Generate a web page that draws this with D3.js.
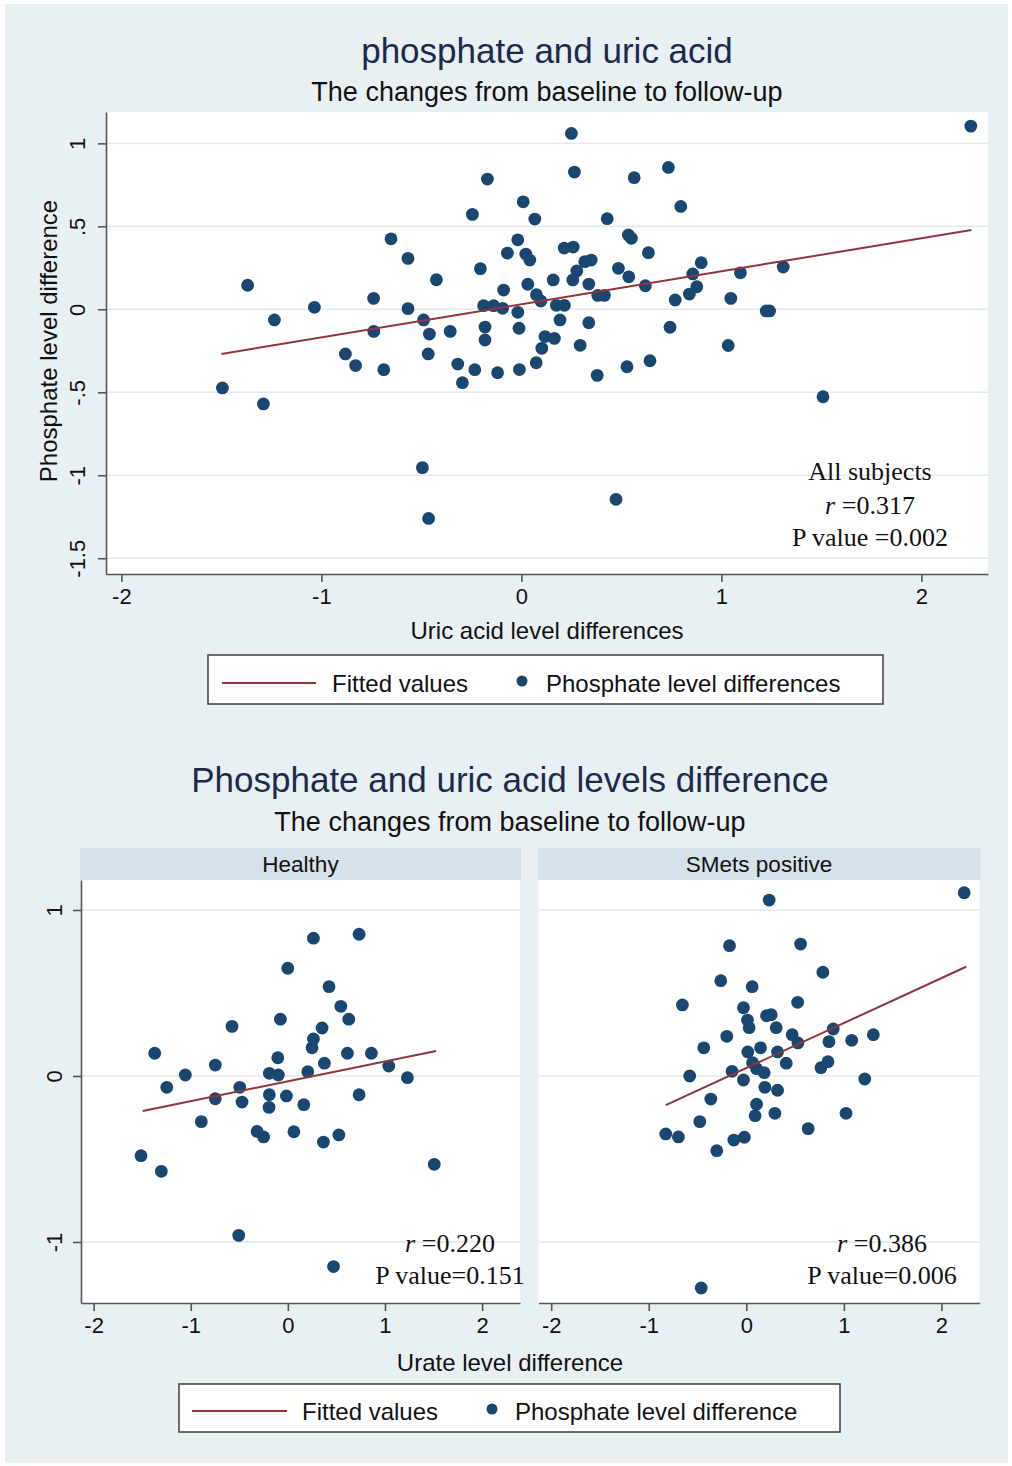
<!DOCTYPE html>
<html>
<head>
<meta charset="utf-8">
<script src="https://cdn.jsdelivr.net/npm/d3@7"></script>
<style>
  html, body { margin: 0; padding: 0; background: #ffffff; }
  svg { display: block; }
  text { font-family: "Liberation Sans", Arial, Helvetica, sans-serif; }
  .serif { font-family: "Liberation Serif", "Times New Roman", serif; }
</style>
</head>
<body>
<script>
// ---------------- DATA ----------------
const topTitle = "phosphate and uric acid";
const bottomTitle = "Phosphate and uric acid levels difference";
const subTitle = "The changes from baseline to follow-up";
const panelNames = ["Healthy", "SMets positive"];

// All subjects: uric acid difference (x) vs phosphate difference (y)
const topX = [2.247,0.25,0.265,0.735,0.564,-0.17,0.797,0.009,-0.245,0.067,0.429,-0.652,-0.018,0.535,0.55,0.214,0.259,0.635,-0.567,-0.07,0.022,0.042,0.317,0.349,0.899,1.095,1.309,-0.205,0.277,0.485,0.857,-0.425,0.159,0.257,0.537,-1.369,0.877,0.62,-0.089,0.032,0.337,0.84,0.075,0.097,0.382,0.415,-0.739,0.769,1.047,-1.035,-0.567,-0.189,-0.139,-0.094,0.175,0.215,-0.018,1.224,1.241,-1.235,-0.489,0.193,-0.182,-0.012,0.337,0.743,-0.738,-0.46,-0.356,-0.182,0.118,0.165,0.102,0.294,1.034,-0.88,-0.466,-0.829,-0.688,-0.318,-0.233,-0.119,-0.01,0.074,0.379,0.528,0.643,-0.295,-1.495,-1.29,1.508,-0.495,0.473,-0.464];
const topY = [1.104,1.06,0.827,0.855,0.793,0.785,0.62,0.648,0.572,0.544,0.546,0.425,0.419,0.448,0.428,0.369,0.375,0.341,0.307,0.339,0.333,0.297,0.287,0.297,0.281,0.22,0.255,0.245,0.231,0.247,0.213,0.178,0.177,0.177,0.196,0.145,0.136,0.142,0.116,0.151,0.152,0.092,0.088,0.05,0.084,0.084,0.066,0.056,0.066,0.012,0.004,0.022,0.022,0.006,0.024,0.024,-0.018,-0.01,-0.01,-0.064,-0.064,-0.064,-0.107,-0.114,-0.081,-0.108,-0.133,-0.149,-0.133,-0.185,-0.164,-0.175,-0.235,-0.217,-0.218,-0.269,-0.269,-0.339,-0.364,-0.33,-0.364,-0.382,-0.363,-0.322,-0.398,-0.346,-0.31,-0.442,-0.474,-0.57,-0.527,-0.954,-1.145,-1.26];
const topFitX = [-1.5, 2.25];
const topFitY = [-0.269, 0.478];

// Healthy panel
const healthyX = [0.263,0.733,-0.001,0.424,0.545,0.627,-0.077,-0.575,0.352,0.263,0.249,-0.104,0.613,0.86,-1.371,0.376,-0.747,-1.056,-0.191,-0.098,0.205,1.039,1.231,-1.247,-0.495,-0.747,-0.472,-0.191,-0.015,-0.194,0.164,0.733,-0.891,-0.317,-0.25,0.062,0.366,0.525,-1.512,-1.303,-0.506,0.47,1.507];
const healthyY = [0.83,0.854,0.649,0.538,0.42,0.342,0.342,0.299,0.289,0.223,0.17,0.11,0.137,0.137,0.137,0.077,0.066,0.006,0.016,0.006,0.026,0.06,-0.01,-0.068,-0.068,-0.137,-0.157,-0.113,-0.12,-0.189,-0.173,-0.113,-0.275,-0.334,-0.367,-0.336,-0.398,-0.355,-0.48,-0.574,-0.96,-1.148,-0.532];
const healthyFitX = [-1.494, 1.526];
const healthyFitY = [-0.211, 0.151];

// SMets positive panel
const smetsX = [2.233,0.234,-0.172,0.556,0.785,-0.262,0.06,-0.655,0.526,-0.029,0.012,0.029,0.207,0.255,0.306,0.891,1.302,0.47,0.529,0.847,1.08,-0.2,-0.436,0.146,0.015,0.32,0.064,0.105,0.183,0.409,0.765,0.837,-0.58,-0.146,-0.029,1.214,0.19,0.32,-0.364,0.105,0.09,0.293,1.022,-0.477,0.634,-0.826,-0.696,-0.303,-0.128,-0.02,-0.462];
const smetsY = [1.104,1.06,0.785,0.795,0.625,0.574,0.538,0.428,0.444,0.411,0.337,0.291,0.363,0.369,0.291,0.283,0.249,0.249,0.199,0.207,0.215,0.239,0.17,0.17,0.145,0.145,0.08,0.044,0.02,0.077,0.05,0.086,0,0.028,-0.024,-0.018,-0.068,-0.086,-0.139,-0.17,-0.239,-0.225,-0.225,-0.275,-0.317,-0.349,-0.367,-0.45,-0.386,-0.369,-1.277];
const smetsFitX = [-0.826, 2.253];
const smetsFitY = [-0.175, 0.658];

// Ticks
const topXTicks = [-2, -1, 0, 1, 2];
const topYTicks = [1, 0.5, 0, -0.5, -1, -1.5];
const topYTickLabels = ["1", ".5", "0", "-.5", "-1", "-1.5"];
const botXTicks = [-2, -1, 0, 1, 2];
const botYTicks = [1, 0, -1];
const botYTickLabels = ["1", "0", "-1"];

// Axis titles / legend / stats
const topXTitle = "Uric acid level differences";
const topYTitle = "Phosphate level difference";
const botXTitle = "Urate level difference";
const legendFit = "Fitted values";
const legendTop = "Phosphate level differences";
const legendBot = "Phosphate level difference";
const topStats = ["All subjects", "0.317", "0.002"];
const healthyStats = ["0.220", "0.151"];
const smetsStats = ["0.386", "0.006"];

// ---------------- STYLE ----------------
const BG = "#e9f0f3";
const STRIP = "#d6e2e9";
const GRID = "#e3eaee";
const AXIS = "#555555";
const NAVY = "#1a476f";
const MAROON = "#90353b";
const TITLE = "#1c2b4c";
const R = 6.4;

const W = 1012, H = 1466;
const svg = d3.select("body").append("svg").attr("width", W).attr("height", H);
svg.append("rect").attr("x", 5).attr("y", 4).attr("width", 1003).attr("height", 1459).attr("fill", BG);

function scatterPanel(g, xs, ys, xv, yv, fx, fy, gridTicks) {
  const [x0, x1] = xs.range();
  const [y0, y1] = ys.range();
  g.append("rect").attr("x", x0).attr("y", y1).attr("width", x1 - x0).attr("height", y0 - y1).attr("fill", "#fff");
  g.append("g").selectAll("line").data(gridTicks).join("line")
    .attr("x1", x0).attr("x2", x1)
    .attr("y1", d => ys(d)).attr("y2", d => ys(d))
    .attr("stroke", GRID).attr("stroke-width", 1.6);
  g.append("g").selectAll("circle").data(xv.map((v, i) => [v, yv[i]])).join("circle")
    .attr("cx", d => xs(d[0])).attr("cy", d => ys(d[1])).attr("r", R).attr("fill", NAVY);
  g.append("line")
    .attr("x1", xs(fx[0])).attr("y1", ys(fy[0]))
    .attr("x2", xs(fx[1])).attr("y2", ys(fy[1]))
    .attr("stroke", MAROON).attr("stroke-width", 2);
}

function styleAxis(ax) {
  ax.select(".domain").attr("stroke", AXIS).attr("stroke-width", 1.6);
  ax.selectAll(".tick line").attr("stroke", AXIS).attr("stroke-width", 1.6);
  ax.selectAll("text").attr("fill", "#111").style("font-family", "'Liberation Sans', Arial, sans-serif");
}

function xAxis(g, xs, yPix, ticks, fs) {
  const ax = g.append("g").attr("transform", `translate(0,${yPix})`)
    .call(d3.axisBottom(xs).tickValues(ticks).tickSize(8).tickSizeOuter(0).tickPadding(6).tickFormat(d => String(d)));
  styleAxis(ax);
  ax.selectAll("text").attr("font-size", fs);
  return ax;
}

function yAxis(g, ys, xPix, ticks, labels, fs, off) {
  const ax = g.append("g").attr("transform", `translate(${xPix},0)`)
    .call(d3.axisLeft(ys).tickValues(ticks).tickSize(8).tickSizeOuter(0).tickFormat((d, i) => labels[i]));
  styleAxis(ax);
  ax.selectAll("text").attr("font-size", fs)
    .attr("transform", "rotate(-90)")
    .attr("x", 0).attr("y", -off).attr("dy", 0)
    .attr("text-anchor", "middle");
  return ax;
}

function centerText(x, y, str, fs, fill, cls) {
  return svg.append("text").attr("x", x).attr("y", y).attr("text-anchor", "middle")
    .attr("font-size", fs).attr("fill", fill || "#111").attr("class", cls || null).text(str);
}

function statLine(x, y, rv) {
  const t = svg.append("text").attr("class", "serif").attr("x", x).attr("y", y)
    .attr("text-anchor", "middle").attr("font-size", 26).attr("fill", "#111");
  t.append("tspan").attr("font-style", "italic").text("r");
  t.append("tspan").text(" =" + rv);
}

function legend(x, y, w, h, lineX, lineW, fitTextX, dotX, ptTextX, ptLabel, baseY) {
  svg.append("rect").attr("x", x).attr("y", y).attr("width", w).attr("height", h)
    .attr("fill", "#fff").attr("stroke", "#4a4a4a").attr("stroke-width", 1.6);
  svg.append("line").attr("x1", lineX).attr("x2", lineX + lineW).attr("y1", baseY - 9).attr("y2", baseY - 9)
    .attr("stroke", MAROON).attr("stroke-width", 2);
  svg.append("text").attr("x", fitTextX).attr("y", baseY).attr("font-size", 24).attr("fill", "#111").text(legendFit);
  svg.append("circle").attr("cx", dotX).attr("cy", baseY - 11).attr("r", 5.5).attr("fill", NAVY);
  svg.append("text").attr("x", ptTextX).attr("y", baseY).attr("font-size", 24).attr("fill", "#111").text(ptLabel);
}

// ---------------- TOP CHART ----------------
centerText(547, 63, topTitle, 35, TITLE);
centerText(547, 101, subTitle, 27, "#111");

const xTop = d3.scaleLinear().domain([-2.077, 2.333]).range([106, 988]);
const yTop = d3.scaleLinear().domain([-1.595, 1.189]).range([574, 112]);
const gTop = svg.append("g");
scatterPanel(gTop, xTop, yTop, topX, topY, topFitX, topFitY, topYTicks);
xAxis(gTop, xTop, 574, topXTicks, 22);
yAxis(gTop, yTop, 106, topYTicks, topYTickLabels, 22, 21);

centerText(547, 639, topXTitle, 24, "#111");
svg.append("text").attr("transform", `translate(57,${(112 + 574) / 2 - 2}) rotate(-90)`)
  .attr("text-anchor", "middle").attr("font-size", 24).attr("fill", "#111").text(topYTitle);

centerText(870, 480, topStats[0], 26, "#111", "serif");
statLine(870, 514, topStats[1]);
centerText(870, 546, "P value =" + topStats[2], 26, "#111", "serif");

legend(208, 655, 675, 49, 222, 94, 332, 522, 546, legendTop, 692);

// ---------------- BOTTOM CHART ----------------
centerText(510, 792, bottomTitle, 35, TITLE);
centerText(510, 831, subTitle, 27, "#111");

const yBot = d3.scaleLinear().domain([-1.3675, 1.1807]).range([1303, 880]);
const xLeft = d3.scaleLinear().domain([-2.13, 2.39]).range([81, 520]);
const xRight = d3.scaleLinear().domain([-2.13, 2.39]).range([538.5, 979.5]);

const panels = [
  { xs: xLeft, xv: healthyX, yv: healthyY, fx: healthyFitX, fy: healthyFitY, name: panelNames[0], stats: healthyStats, statX: 450 },
  { xs: xRight, xv: smetsX, yv: smetsY, fx: smetsFitX, fy: smetsFitY, name: panelNames[1], stats: smetsStats, statX: 882 }
];

panels.forEach((p, i) => {
  const [a, b] = p.xs.range();
  svg.append("rect").attr("x", a - 1).attr("y", 848).attr("width", b - a + 2).attr("height", 32).attr("fill", STRIP);
  centerText((a + b) / 2, 872, p.name, 22.5, "#111");
  const g = svg.append("g");
  scatterPanel(g, p.xs, yBot, p.xv, p.yv, p.fx, p.fy, botYTicks);
  xAxis(g, p.xs, 1303, botXTicks, 22);
  if (i === 0) yAxis(g, yBot, 81, botYTicks, botYTickLabels, 22, 19);
  statLine(p.statX, 1252, p.stats[0]);
});

centerText(450, 1284, "P value=" + healthyStats[1], 26, "#111", "serif");
centerText(882, 1284, "P value=" + smetsStats[1], 26, "#111", "serif");

centerText(510, 1371, botXTitle, 24, "#111");
legend(179, 1384, 661, 48, 192, 95, 302, 492, 515, legendBot, 1420);
</script>
</body>
</html>
